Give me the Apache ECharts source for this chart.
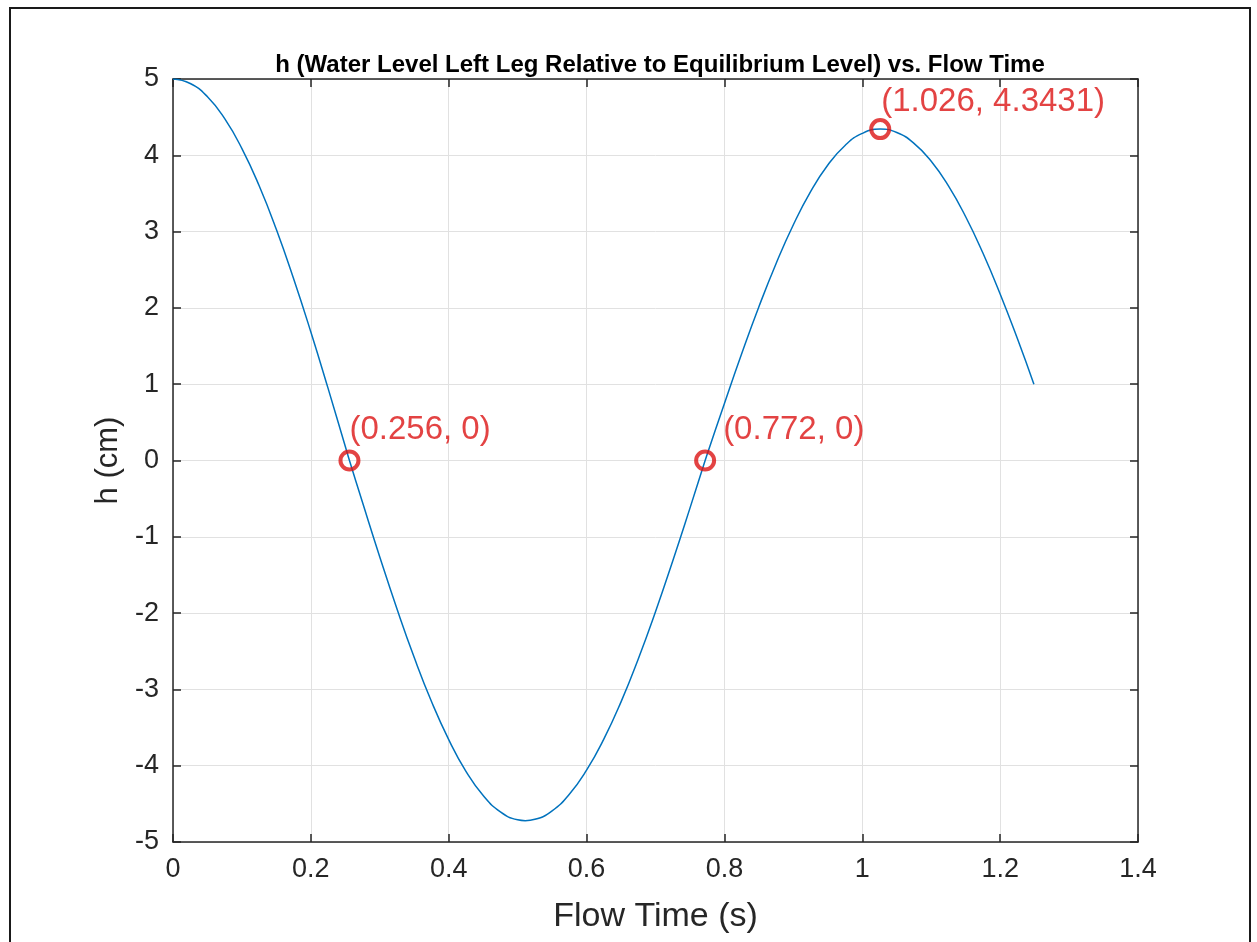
<!DOCTYPE html>
<html>
<head>
<meta charset="utf-8">
<title>h vs. Flow Time</title>
<script src="https://cdn.jsdelivr.net/npm/echarts@6/dist/echarts.min.js"></script>
<style>
  html, body { margin: 0; padding: 0; background: #fff; }
  #chart { width: 1257px; height: 942px; }
</style>
</head>
<body>
<div id="chart"></div>
<script>
// Curve: flow time (s) and h (cm)
const timeS = [
    0, 0.025, 0.05, 0.075, 0.1, 0.125, 0.15, 0.175, 0.2, 0.225, 0.25, 0.256,
    0.275, 0.3, 0.325, 0.35, 0.375, 0.4, 0.425, 0.45, 0.475, 0.5, 0.511,
    0.525, 0.55, 0.575, 0.6, 0.625, 0.65, 0.675, 0.7, 0.725, 0.75, 0.772,
    0.775, 0.8, 0.825, 0.85, 0.875, 0.9, 0.925, 0.95, 0.975, 1.0, 1.026,
    1.05, 1.075, 1.1, 1.125, 1.15, 1.175, 1.2, 1.225, 1.249
];
const heightCm = [
    5.0, 4.941, 4.767, 4.48, 4.088, 3.6, 3.027, 2.382, 1.684, 0.945, 0.184, 0,
    -0.551, -1.264, -1.946, -2.583, -3.159, -3.658, -4.074, -4.391, -4.605, -4.709, -4.72,
    -4.703, -4.591, -4.374, -4.059, -3.652, -3.163, -2.601, -1.982, -1.317, -0.624, 0,
    0.081, 0.748, 1.398, 2.015, 2.583, 3.09, 3.524, 3.872, 4.129, 4.287, 4.3431,
    4.298, 4.157, 3.922, 3.599, 3.195, 2.719, 2.183, 1.598, 1.0
];

// Marked points
const markT = [0.256, 0.772, 1.026];
const markH = [0, 0, 4.3431];
const markText = ['(0.256, 0)', '(0.772, 0)', '(1.026, 4.3431)'];

const xTicks = [0, 0.2, 0.4, 0.6, 0.8, 1, 1.2, 1.4];
const yTicks = [-5, -4, -3, -2, -1, 0, 1, 2, 3, 4, 5];

const FONT = "'Liberation Sans', Arial, Helvetica, sans-serif";
const INK = '#262626';
const RED = '#dc1414';

// label offsets per marker [dx, dy] from the point
const labelShift = [[2, -29], [20, -29], [3, -25]];

const chart = echarts.init(document.getElementById('chart'));

const lineData = timeS.map((t, i) => [t, heightCm[i]]);
const markData = markT.map((t, i) => ({
    value: [t, markH[i]],
    label: {
        show: true,
        formatter: markText[i],
        position: [9 + labelShift[i][0], 9 + labelShift[i][1]],
        align: 'left',
        verticalAlign: 'middle'
    }
}));

const baseAxis = {
    axisLine: { show: true, onZero: false, lineStyle: { color: INK, width: 1.5 } },
    axisTick: { show: true, inside: true, length: 8, lineStyle: { color: INK, width: 1.5 } },
    splitLine: { show: false },
    axisLabel: { show: false }
};

const option = {
    backgroundColor: '#fff',
    animation: false,
    title: {
        text: 'h (Water Level Left Leg Relative to Equilibrium Level) vs. Flow Time',
        left: 655,
        textAlign: 'center',
        top: 48,
        textStyle: { fontFamily: FONT, fontSize: 24, fontWeight: 'bold', color: '#000' }
    },
    grid: { left: 173, top: 79, right: 119, bottom: 100, containLabel: false },
    xAxis: [
        {
            type: 'value',
            min: 0, max: 1.4, interval: 0.2,
            position: 'bottom',
            name: 'Flow Time (s)',
            nameLocation: 'middle',
            nameGap: 58,
            nameTextStyle: { fontFamily: FONT, fontSize: 34, color: INK },
            axisLine: { show: true, onZero: false, lineStyle: { color: INK, width: 1.5 } },
            axisTick: { show: true, inside: true, length: 8, lineStyle: { color: INK, width: 1.5 } },
            splitLine: { show: true, lineStyle: { color: '#e1e1e1', width: 1 } },
            axisLabel: {
                fontFamily: FONT, fontSize: 27, color: INK, margin: 14,
                formatter: v => String(xTicks.find(t => Math.abs(t - v) < 1e-9) ?? v)
            }
        },
        Object.assign({ type: 'value', min: 0, max: 1.4, interval: 0.2, position: 'top' }, baseAxis)
    ],
    yAxis: [
        {
            type: 'value',
            min: -5, max: 5, interval: 1,
            position: 'left',
            name: 'h (cm)',
            nameLocation: 'middle',
            nameRotate: 90,
            nameGap: 46,
            nameTextStyle: { fontFamily: FONT, fontSize: 31, color: INK },
            axisLine: { show: true, onZero: false, lineStyle: { color: INK, width: 1.5 } },
            axisTick: { show: true, inside: true, length: 8, lineStyle: { color: INK, width: 1.5 } },
            splitLine: { show: true, lineStyle: { color: '#e1e1e1', width: 1 } },
            axisLabel: {
                fontFamily: FONT, fontSize: 27, color: INK, margin: 14,
                formatter: v => String(yTicks.find(t => Math.abs(t - v) < 1e-9) ?? v)
            }
        },
        Object.assign({ type: 'value', min: -5, max: 5, interval: 1, position: 'right' }, baseAxis)
    ],
    series: [
        {
            name: 'h',
            type: 'line',
            data: lineData,
            showSymbol: false,
            smooth: true,
            lineStyle: { color: '#0072BD', width: 1.5 },
            silent: true,
            z: 2
        },
        {
            name: 'marks',
            type: 'scatter',
            data: markData,
            symbol: 'circle',
            symbolSize: 18,
            itemStyle: { color: 'rgba(0,0,0,0)', borderColor: RED, borderWidth: 4 },
            label: { fontFamily: FONT, fontSize: 33, color: RED },
            z: 3
        }
    ],
    graphic: [
        {
            type: 'rect',
            shape: { x: 10, y: 8, width: 1240, height: 960 },
            style: { fill: 'none', stroke: '#1a1a1a', lineWidth: 2 },
            silent: true
        }
    ]
};

chart.setOption(option);
</script>
</body>
</html>
